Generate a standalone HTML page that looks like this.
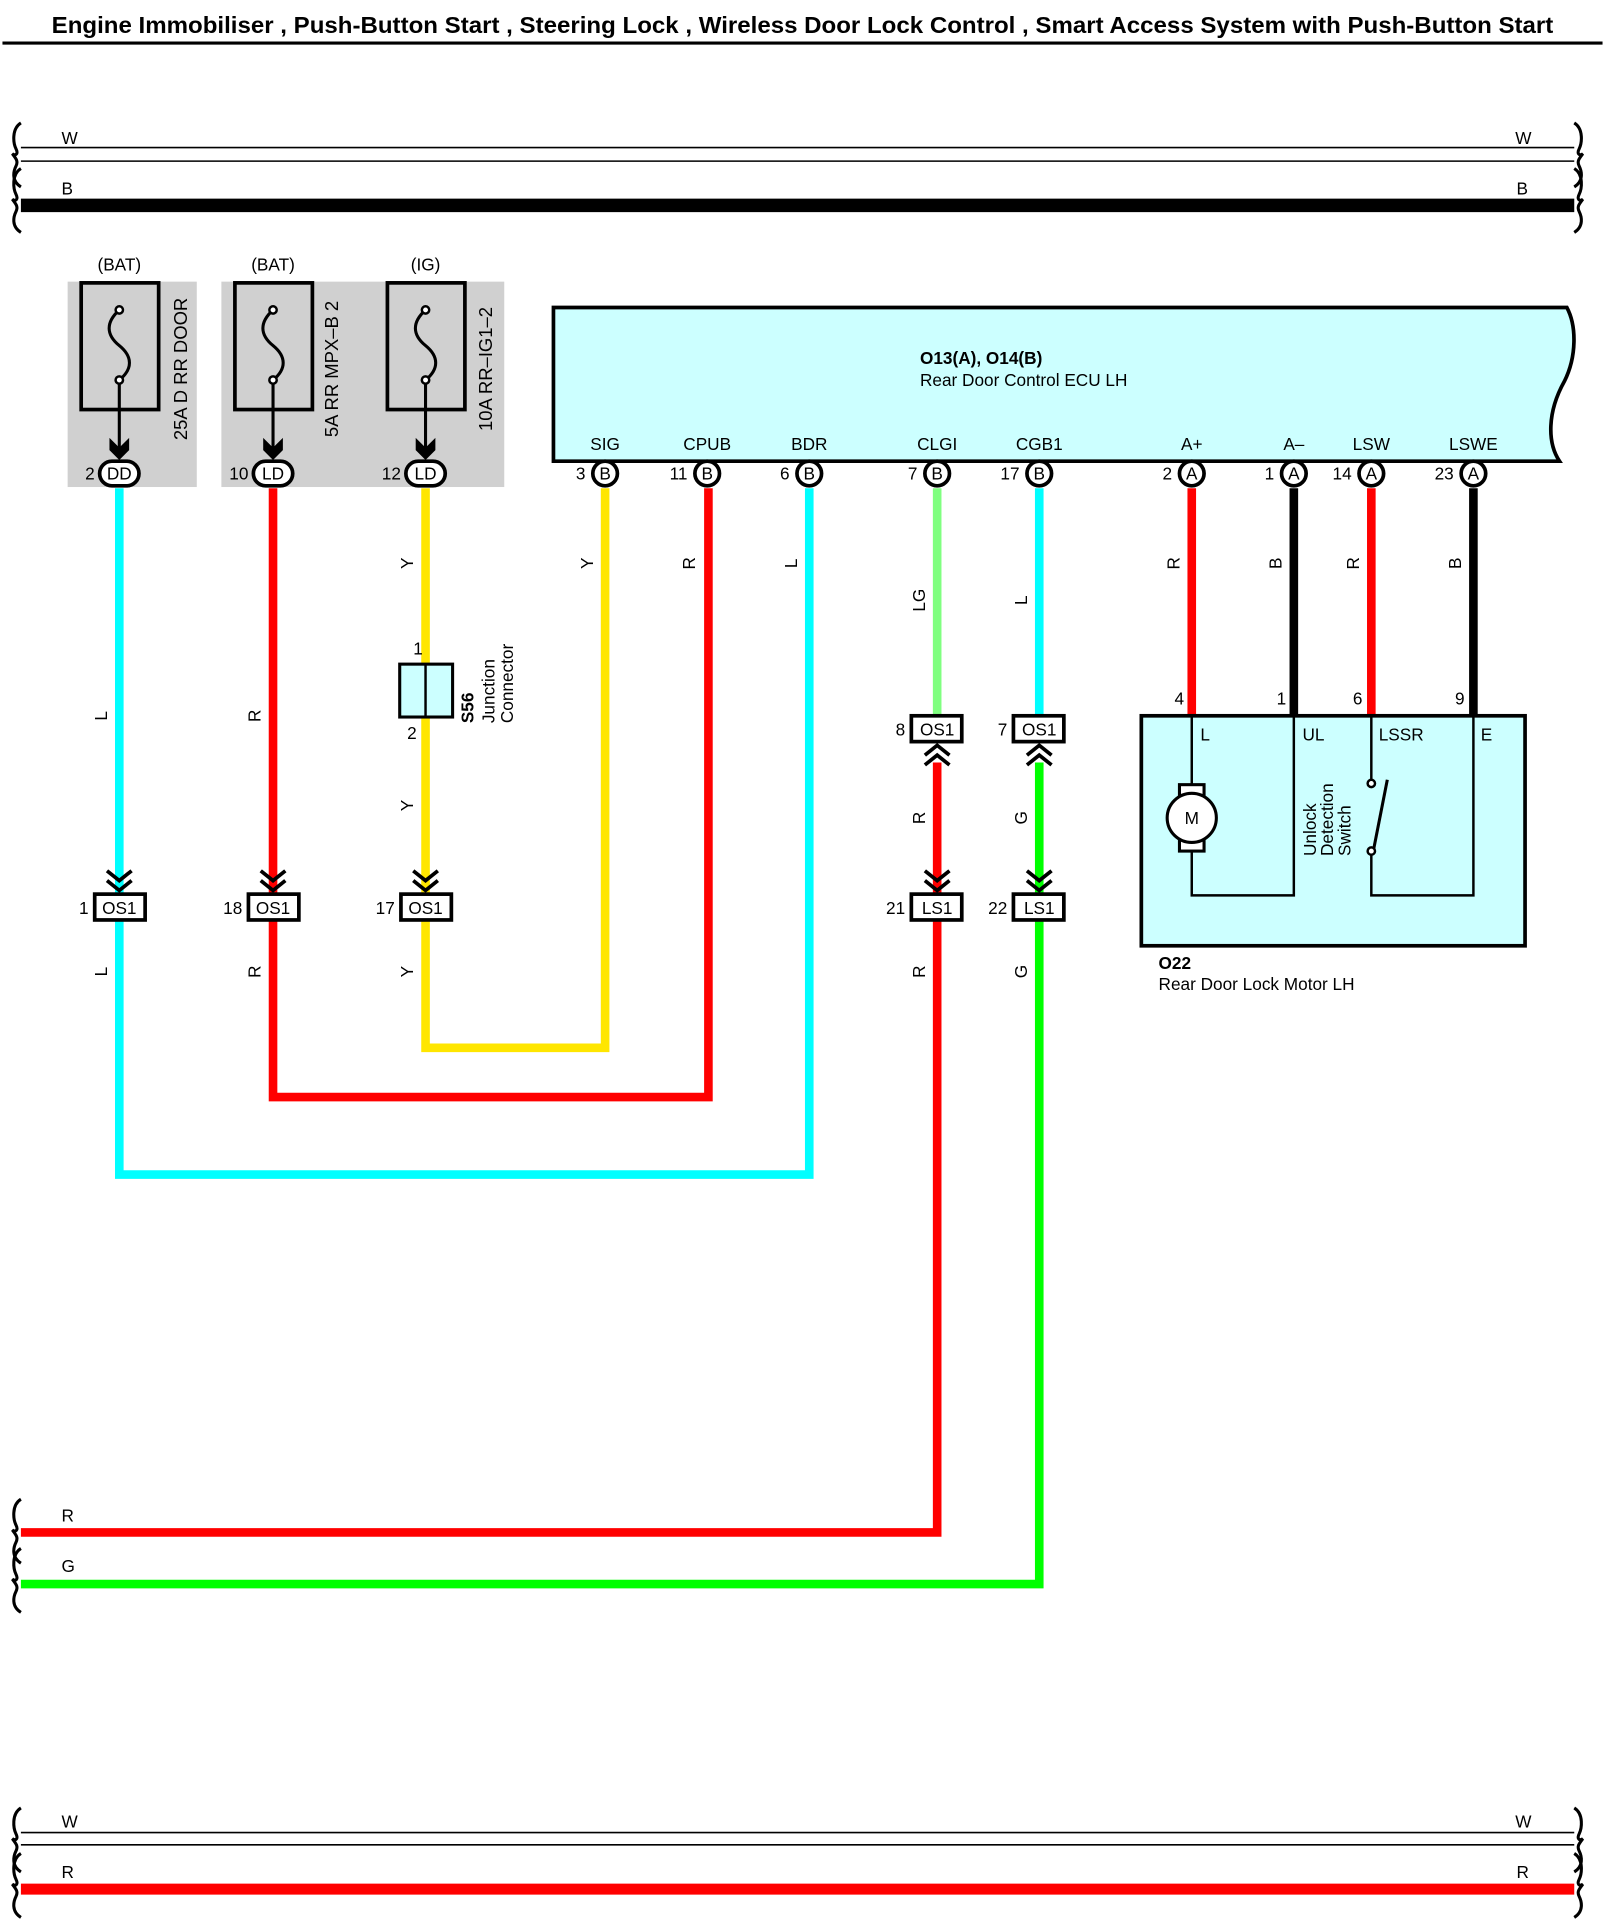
<!DOCTYPE html>
<html><head><meta charset="utf-8"><style>
html,body{margin:0;padding:0;background:#fff;}
svg{display:block;}
text{font-family:"Liberation Sans",Arial,sans-serif;font-size:14px;fill:#000;}
</style></head><body>
<svg width="1605" height="1926" viewBox="0 0 1305 1566" xmlns="http://www.w3.org/2000/svg">
<defs>
<path id="brL" d="M0,-25 C-8,-20 -6,-8 -4,-4 C-2,0 -4,2 -7,0 C-4,4 -2,6 -4,10 C-6,14 -8,22 0,27" fill="none" stroke="#000" stroke-width="2.5"/>
<path id="brR" d="M0,-25 C8,-20 6,-8 4,-4 C2,0 4,2 7,0 C4,4 2,6 4,10 C6,14 8,22 0,27" fill="none" stroke="#000" stroke-width="2.5"/>
<path id="chD" d="M-10,-16 L0,-8 L10,-16 M-10,-8 L0,0 L10,-8" fill="none" stroke="#000" stroke-width="3"/>
<path id="chU" d="M-10,16 L0,8 L10,16 M-10,8 L0,0 L10,8" fill="none" stroke="#000" stroke-width="3"/>
</defs>
<text x="42" y="27" textLength="1221" lengthAdjust="spacingAndGlyphs" style="font-weight:bold;font-size:18.5px">Engine Immobiliser , Push-Button Start , Steering Lock , Wireless Door Lock Control , Smart Access System with Push-Button Start</text>
<line x1="2" y1="35" x2="1303" y2="35" stroke="#000" stroke-width="2.5"/>

<!-- top bus -->
<line x1="17" y1="120" x2="1280" y2="120" stroke="#000" stroke-width="1.3"/>
<line x1="17" y1="131" x2="1280" y2="131" stroke="#000" stroke-width="1.3"/>
<line x1="17" y1="167" x2="1280" y2="167" stroke="#000" stroke-width="11"/>
<use href="#brL" x="17" y="125"/><use href="#brL" x="17" y="162"/>
<use href="#brR" x="1280" y="125"/><use href="#brR" x="1280" y="162"/>
<text x="50" y="117">W</text><text x="1232" y="117">W</text>
<text x="50" y="158">B</text><text x="1233" y="158">B</text>

<!-- fuse boxes -->
<rect x="55" y="229" width="105" height="167" fill="#d0d0d0"/>
<rect x="180" y="229" width="230" height="167" fill="#d0d0d0"/>
<text x="97" y="220" text-anchor="middle">(BAT)</text>
<text x="222" y="220" text-anchor="middle">(BAT)</text>
<text x="346" y="220" text-anchor="middle">(IG)</text>
<g fill="none" stroke="#000" stroke-width="3">
<rect x="66" y="230" width="63" height="103"/>
<rect x="191" y="230" width="63" height="103"/>
<rect x="315" y="230" width="63" height="103"/>
</g>
<g fill="none" stroke="#000" stroke-width="2.5">
<path d="M97,252 C86,262 86,272 97,281 C108,290 108,300 97,309"/>
<path d="M222,252 C211,262 211,272 222,281 C233,290 233,300 222,309"/>
<path d="M346,252 C335,262 335,272 346,281 C357,290 357,300 346,309"/>
<line x1="97" y1="309" x2="97" y2="365"/>
<line x1="222" y1="309" x2="222" y2="365"/>
<line x1="346" y1="309" x2="346" y2="365"/>
</g>
<g fill="#fff" stroke="#000" stroke-width="2">
<circle cx="97" cy="252" r="3"/><circle cx="97" cy="309" r="3"/>
<circle cx="222" cy="252" r="3"/><circle cx="222" cy="309" r="3"/>
<circle cx="346" cy="252" r="3"/><circle cx="346" cy="309" r="3"/>
</g>
<g fill="#000">
<path d="M89,356 L97,364 L105,356 L105,366 L97,374 L89,366Z"/>
<path d="M214,356 L222,364 L230,356 L230,366 L222,374 L214,366Z"/>
<path d="M338,356 L346,364 L354,356 L354,366 L346,374 L338,366Z"/>
</g>
<text transform="translate(152,300) rotate(-90)" text-anchor="middle" style="font-size:15px">25A D RR DOOR</text>
<text transform="translate(275,300) rotate(-90)" text-anchor="middle" style="font-size:15px">5A RR MPX–B 2</text>
<text transform="translate(400,300) rotate(-90)" text-anchor="middle" style="font-size:15px">10A RR–IG1–2</text>

<!-- ECU -->
<path d="M450,250 L1274,250 C1282,265 1282,290 1272,310 C1258,335 1258,360 1268,375 L450,375 Z" fill="#ccffff" stroke="#000" stroke-width="3"/>
<text x="748" y="296" style="font-weight:bold">O13(A), O14(B)</text>
<text x="748" y="314">Rear Door Control ECU LH</text>
<g text-anchor="middle">
<text x="492" y="366">SIG</text><text x="575" y="366">CPUB</text><text x="658" y="366">BDR</text>
<text x="762" y="366">CLGI</text><text x="845" y="366">CGB1</text><text x="969" y="366">A+</text>
<text x="1052" y="366">A–</text><text x="1115" y="366">LSW</text><text x="1198" y="366">LSWE</text>
</g>

<!-- wires -->
<g fill="none" stroke-width="7" stroke-linejoin="miter">
<path d="M97,397 V727 M97,748 V955 H658 V397" stroke="#00ffff"/>
<path d="M222,397 V727 M222,748 V892 H576 V397" stroke="#ff0000"/>
<path d="M346,397 V727 M346,748 V852 H492 V397" stroke="#ffe600"/>
<path d="M762,397 V582" stroke="#80ff80"/>
<path d="M845,397 V582" stroke="#00ffff"/>
<path d="M762,620 V727 M762,748 V1246 H17" stroke="#ff0000"/>
<path d="M845,620 V727 M845,748 V1288 H17" stroke="#00ff00"/>
<path d="M969,397 V582 M1115,397 V582" stroke="#ff0000"/>
<path d="M1052,397 V582 M1198,397 V582" stroke="#000"/>
</g>
<use href="#brL" x="17" y="1244"/><use href="#brL" x="17" y="1284"/>
<text x="50" y="1237">R</text><text x="50" y="1278">G</text>

<!-- ECU pins -->
<g fill="#fff" stroke="#000" stroke-width="3">
<circle cx="492" cy="385" r="10"/><circle cx="575" cy="385" r="10"/><circle cx="658" cy="385" r="10"/>
<circle cx="762" cy="385" r="10"/><circle cx="845" cy="385" r="10"/><circle cx="969" cy="385" r="10"/>
<circle cx="1052" cy="385" r="10"/><circle cx="1115" cy="385" r="10"/><circle cx="1198" cy="385" r="10"/>
<rect x="81" y="375" width="32" height="20" rx="10"/>
<rect x="206" y="375" width="32" height="20" rx="10"/>
<rect x="330" y="375" width="32" height="20" rx="10"/>
</g>
<g text-anchor="middle">
<text x="492" y="390">B</text><text x="575" y="390">B</text><text x="658" y="390">B</text>
<text x="762" y="390">B</text><text x="845" y="390">B</text><text x="969" y="390">A</text>
<text x="1052" y="390">A</text><text x="1115" y="390">A</text><text x="1198" y="390">A</text>
<text x="97" y="390">DD</text><text x="222" y="390">LD</text><text x="346" y="390">LD</text>
</g>
<g text-anchor="end">
<text x="77" y="390">2</text><text x="202" y="390">10</text><text x="326" y="390">12</text>
<text x="476" y="390">3</text><text x="559" y="390">11</text><text x="642" y="390">6</text>
<text x="746" y="390">7</text><text x="829" y="390">17</text><text x="953" y="390">2</text>
<text x="1036" y="390">1</text><text x="1099" y="390">14</text><text x="1182" y="390">23</text>
</g>

<!-- rotated wire letters -->
<g text-anchor="middle">
<text transform="translate(87,582) rotate(-90)">L</text>
<text transform="translate(212,582) rotate(-90)">R</text>
<text transform="translate(336,458) rotate(-90)">Y</text>
<text transform="translate(336,655) rotate(-90)">Y</text>
<text transform="translate(482,458) rotate(-90)">Y</text>
<text transform="translate(565,458) rotate(-90)">R</text>
<text transform="translate(648,458) rotate(-90)">L</text>
<text transform="translate(752,488) rotate(-90)">LG</text>
<text transform="translate(835,488) rotate(-90)">L</text>
<text transform="translate(959,458) rotate(-90)">R</text>
<text transform="translate(1042,458) rotate(-90)">B</text>
<text transform="translate(1105,458) rotate(-90)">R</text>
<text transform="translate(1188,458) rotate(-90)">B</text>
<text transform="translate(752,665) rotate(-90)">R</text>
<text transform="translate(835,665) rotate(-90)">G</text>
<text transform="translate(87,790) rotate(-90)">L</text>
<text transform="translate(212,790) rotate(-90)">R</text>
<text transform="translate(336,790) rotate(-90)">Y</text>
<text transform="translate(752,790) rotate(-90)">R</text>
<text transform="translate(835,790) rotate(-90)">G</text>
</g>

<!-- junction S56 -->
<rect x="325" y="540" width="43" height="43" fill="#ccffff" stroke="#000" stroke-width="2.5"/>
<line x1="346" y1="540" x2="346" y2="583" stroke="#000" stroke-width="2"/>
<text x="336" y="532">1</text><text x="331" y="601">2</text>
<text transform="translate(385,588) rotate(-90)" style="font-weight:bold">S56</text>
<text transform="translate(402,588) rotate(-90)">Junction</text>
<text transform="translate(417,588) rotate(-90)">Connector</text>

<!-- chevrons -->
<use href="#chD" x="97" y="724"/><use href="#chD" x="222" y="724"/><use href="#chD" x="346" y="724"/>
<use href="#chD" x="762" y="724"/><use href="#chD" x="845" y="724"/>
<use href="#chU" x="762" y="606"/><use href="#chU" x="845" y="606"/>

<!-- connector boxes -->
<g fill="#fff" stroke="#000" stroke-width="3">
<rect x="77" y="727" width="41" height="21"/><rect x="202" y="727" width="41" height="21"/>
<rect x="326" y="727" width="41" height="21"/><rect x="741" y="727" width="41" height="21"/>
<rect x="824" y="727" width="41" height="21"/>
<rect x="741" y="582" width="41" height="21"/><rect x="824" y="582" width="41" height="21"/>
</g>
<g text-anchor="middle">
<text x="97" y="743">OS1</text><text x="222" y="743">OS1</text><text x="346" y="743">OS1</text>
<text x="762" y="743">LS1</text><text x="845" y="743">LS1</text>
<text x="762" y="598">OS1</text><text x="845" y="598">OS1</text>
</g>
<g text-anchor="end">
<text x="72" y="743">1</text><text x="197" y="743">18</text><text x="321" y="743">17</text>
<text x="736" y="743">21</text><text x="819" y="743">22</text>
<text x="736" y="598">8</text><text x="819" y="598">7</text>
</g>

<!-- motor box -->
<rect x="928" y="582" width="312" height="187" fill="#ccffff" stroke="#000" stroke-width="3"/>
<g fill="none" stroke="#000" stroke-width="2">
<path d="M969,582 V640 M969,690 V728 H1052 V582"/>
<path d="M1115,582 V636 M1115,692 V728 H1198 V582"/>
<line x1="1117" y1="690" x2="1128" y2="634" stroke-width="2.5"/>
</g>
<rect x="959" y="638" width="20" height="54" fill="#fff" stroke="#000" stroke-width="2.5"/>
<circle cx="969" cy="665" r="20" fill="#fff" stroke="#000" stroke-width="2.5"/>
<text x="969" y="670" text-anchor="middle">M</text>
<circle cx="1115" cy="637" r="3" fill="#fff" stroke="#000" stroke-width="2"/>
<circle cx="1115" cy="692" r="3" fill="#fff" stroke="#000" stroke-width="2"/>
<text x="976" y="602">L</text><text x="1059" y="602">UL</text><text x="1121" y="602">LSSR</text><text x="1204" y="602">E</text>
<text x="955" y="573">4</text><text x="1038" y="573">1</text><text x="1100" y="573">6</text><text x="1183" y="573">9</text>
<text transform="translate(1070,696) rotate(-90)">Unlock</text>
<text transform="translate(1084,696) rotate(-90)">Detection</text>
<text transform="translate(1098,696) rotate(-90)">Switch</text>
<text x="942" y="788" style="font-weight:bold">O22</text>
<text x="942" y="805">Rear Door Lock Motor LH</text>

<!-- bottom bus -->
<line x1="17" y1="1490" x2="1280" y2="1490" stroke="#000" stroke-width="1.3"/>
<line x1="17" y1="1500" x2="1280" y2="1500" stroke="#000" stroke-width="1.3"/>
<line x1="17" y1="1536" x2="1280" y2="1536" stroke="#ff0000" stroke-width="9"/>
<use href="#brL" x="17" y="1495"/><use href="#brL" x="17" y="1532"/>
<use href="#brR" x="1280" y="1495"/><use href="#brR" x="1280" y="1532"/>
<text x="50" y="1486">W</text><text x="1232" y="1486">W</text>
<text x="50" y="1527">R</text><text x="1233" y="1527">R</text>
</svg>
</body></html>
